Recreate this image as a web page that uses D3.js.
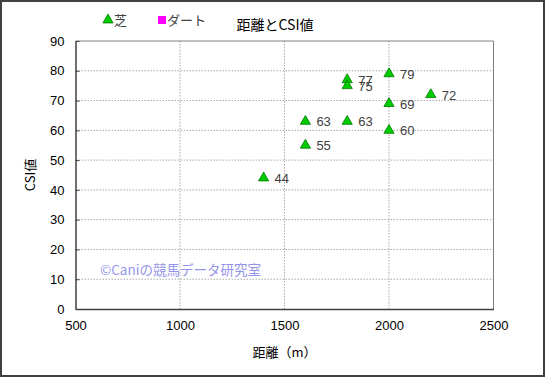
<!DOCTYPE html>
<html>
<head>
<meta charset="utf-8">
<script src="https://cdn.jsdelivr.net/npm/d3@7"></script>
<style>
  body { margin: 0; background: #fff; }
  svg text { font-family: "Liberation Sans", Arial, "Noto Sans CJK JP", sans-serif; }
  .jp { font-family: "Noto Sans CJK JP", sans-serif; }
  .grid line { stroke: #a8a8a8; stroke-dasharray: 1.5 1.5; }
</style>
</head>
<body>
<div id="chart"></div>
<script>
// data
var distances = [1400, 1600, 1600, 1800, 1800, 1800, 2000, 2000, 2000, 2200];
var csiValues = [44, 63, 55, 77, 75, 63, 79, 69, 60, 72];
var xTicks = [500, 1000, 1500, 2000, 2500];
var yTicks = [0, 10, 20, 30, 40, 50, 60, 70, 80, 90];
var legendNames = ["芝", "ダート"];
var legendColors = ["#00cc00", "#ff00ff"];

var w = 545, h = 377;
var plotLeft = 75.5, plotRight = 493.5, plotTop = 41, plotBottom = 309;

var svg = d3.select("#chart").append("svg")
    .attr("width", w)
    .attr("height", h);

// outer frame
svg.append("rect")
    .attr("x", 1).attr("y", 1)
    .attr("width", w - 2).attr("height", h - 2)
    .attr("fill", "#fff")
    .attr("stroke", "#404040")
    .attr("stroke-width", 2);

var xScale = d3.scaleLinear().domain([500, 2500]).range([plotLeft, plotRight]);
var yScale = d3.scaleLinear().domain([0, 90]).range([plotBottom, plotTop]);

// grid lines
svg.append("g").attr("class", "grid")
    .selectAll("line").data(yTicks.slice(1, -1)).join("line")
    .attr("x1", plotLeft).attr("x2", plotRight)
    .attr("y1", d => yScale(d)).attr("y2", d => yScale(d));
svg.append("g").attr("class", "grid")
    .selectAll("line").data(xTicks.slice(1, -1)).join("line")
    .attr("y1", plotTop).attr("y2", plotBottom)
    .attr("x1", d => xScale(d)).attr("x2", d => xScale(d));

// plot border (top/right)
svg.append("path")
    .attr("d", `M${plotLeft},${plotTop}H${plotRight}V${plotBottom}`)
    .attr("fill", "none")
    .attr("stroke", "#808080");

// axes
var xAxis = svg.append("g")
    .attr("transform", `translate(0,${plotBottom})`)
    .call(d3.axisBottom(xScale).tickValues(xTicks).tickSize(0).tickPadding(12).tickFormat(d3.format("d")));
var yAxis = svg.append("g")
    .attr("transform", `translate(${plotLeft},0)`)
    .call(d3.axisLeft(yScale).tickValues(yTicks).tickSize(0).tickPadding(11));
[xAxis, yAxis].forEach(function(g) {
    g.select(".domain").attr("stroke", "#404040").attr("stroke-width", 1.5);
    g.selectAll("text").attr("font-size", 13).attr("fill", "#000");
});
// short inner ticks on the y axis
yAxis.selectAll(".tick line").attr("x2", 4).attr("stroke", "#404040");

// axis titles
svg.append("text").attr("class", "jp")
    .attr("x", (plotLeft + plotRight) / 2).attr("y", 357)
    .attr("text-anchor", "middle").attr("font-size", 13)
    .text("距離（m）");
svg.append("text").attr("class", "jp")
    .attr("transform", `translate(35,${(plotTop + plotBottom) / 2}) rotate(-90)`)
    .attr("text-anchor", "middle").attr("font-size", 13)
    .text("CSI値");

// title
svg.append("text").attr("class", "jp")
    .attr("x", 275).attr("y", 30)
    .attr("text-anchor", "middle").attr("font-size", 14)
    .text("距離とCSI値");

// legend
var tri = d3.symbol().type(d3.symbolTriangle).size(45);
var leg = svg.append("g");
leg.append("path").attr("d", tri())
    .attr("transform", "translate(108,20)")
    .attr("fill", legendColors[0]).attr("stroke", "#007700").attr("stroke-width", 0.8);
leg.append("text").attr("class", "jp").attr("x", 114).attr("y", 25)
    .attr("font-size", 13).attr("fill", "#404040").text(legendNames[0]);
leg.append("rect").attr("x", 158).attr("y", 16).attr("width", 8).attr("height", 8)
    .attr("fill", legendColors[1]);
leg.append("text").attr("class", "jp").attr("x", 167).attr("y", 25)
    .attr("font-size", 13).attr("fill", "#404040").text(legendNames[1]);

// watermark
svg.append("text").attr("class", "jp")
    .attr("x", 100).attr("y", 275)
    .attr("font-size", 13.5).attr("fill", "#9494ea")
    .text("©Caniの競馬データ研究室");

// points
var pts = distances.map((d, i) => ({ x: d, y: csiValues[i] }));
svg.append("g").selectAll("path").data(pts).join("path")
    .attr("d", tri())
    .attr("transform", d => `translate(${xScale(d.x)},${yScale(d.y)})`)
    .attr("fill", "#00cc00")
    .attr("stroke", "#007700")
    .attr("stroke-width", 0.8);
svg.append("g").selectAll("text").data(pts).join("text")
    .attr("x", d => xScale(d.x) + 11)
    .attr("y", d => yScale(d.y) + 5)
    .attr("font-size", 13)
    .attr("fill", "#404040")
    .text(d => d.y);
</script>
</body>
</html>
